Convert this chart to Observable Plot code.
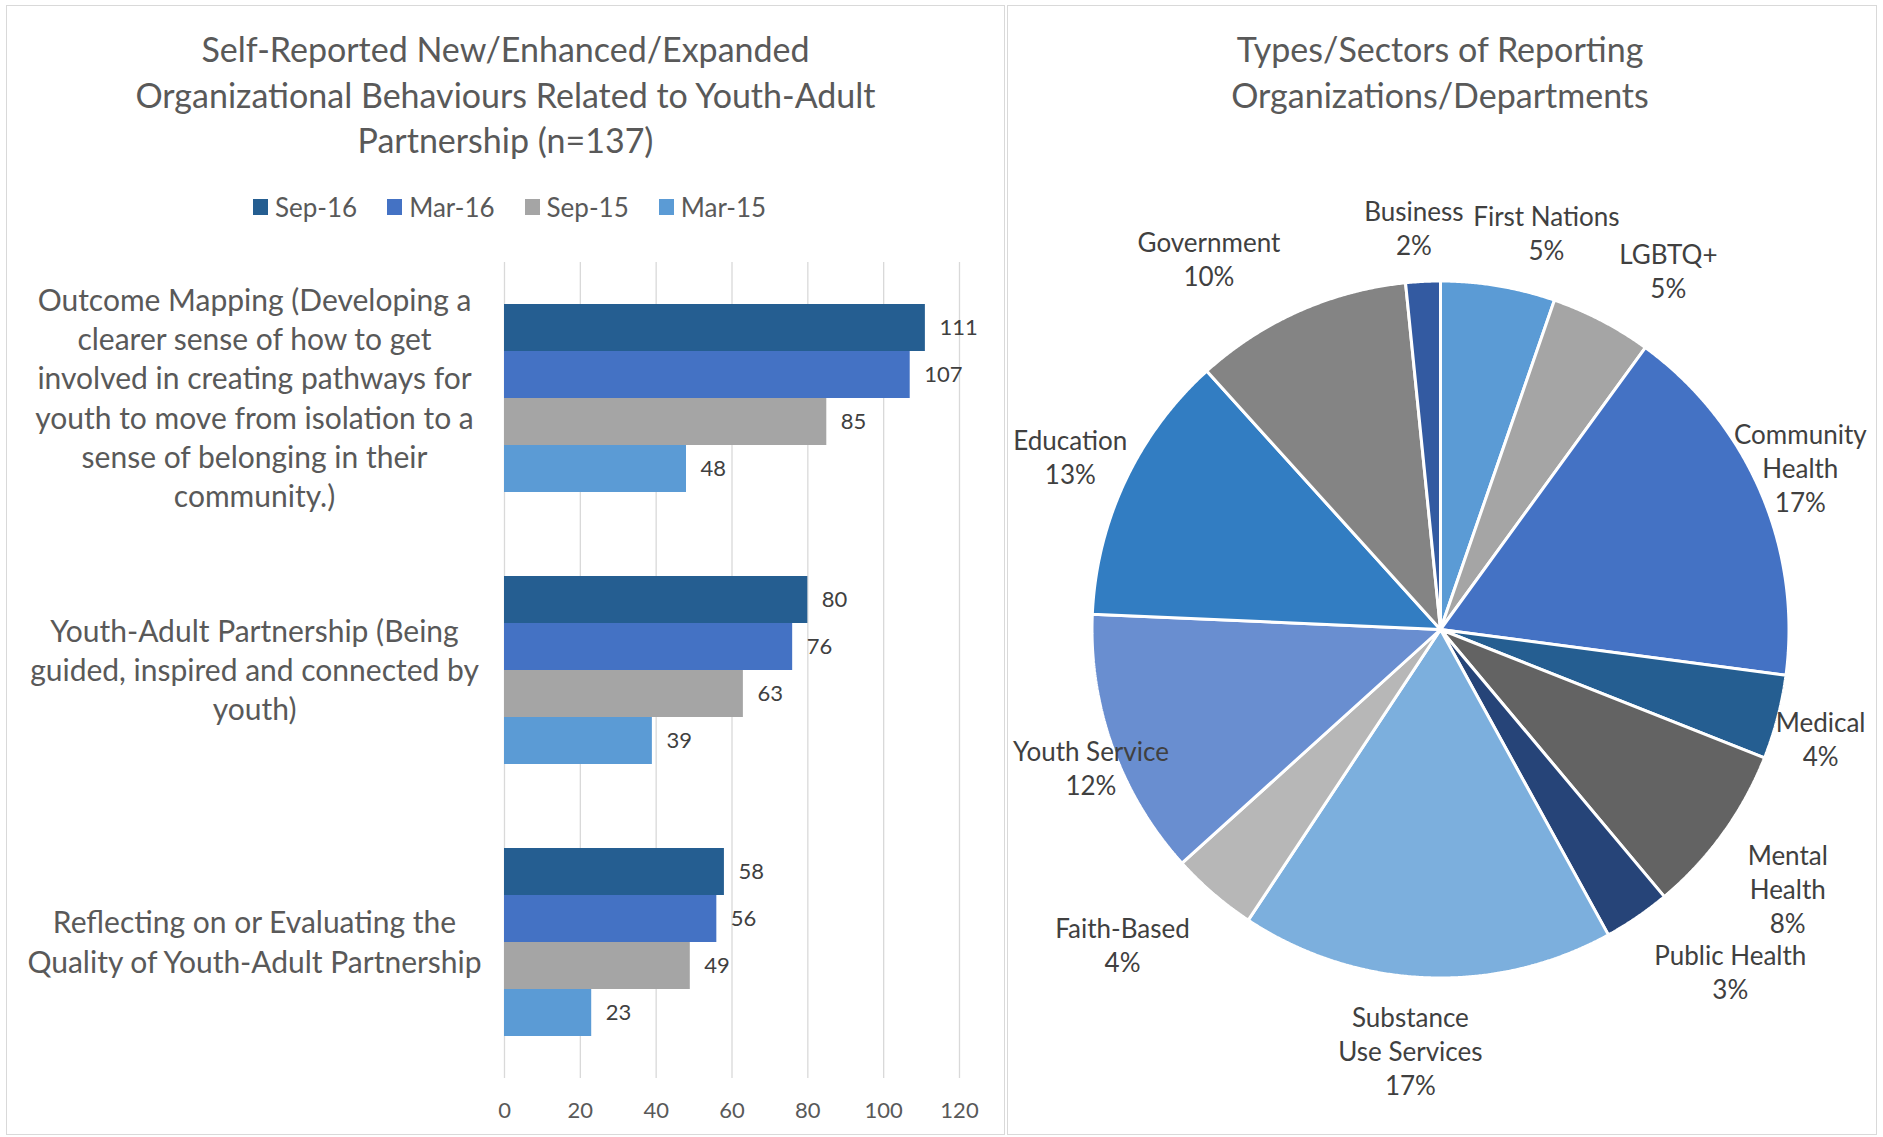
<!DOCTYPE html>
<html>
<head>
<meta charset="utf-8">
<script src="https://cdn.jsdelivr.net/npm/d3@7"></script>
<script src="https://cdn.jsdelivr.net/npm/@observablehq/plot@0.6"></script>
<style>
  html, body { margin: 0; padding: 0; background: #fff; width: 1883px; height: 1137px; overflow: hidden; font-family: Lato, "Open Sans", sans-serif; }
  .panel { position: absolute; border: 1px solid #d9d9d9; box-sizing: border-box; }
  .title { position: absolute; text-align: center; color: #595959; font-size: 34px; line-height: 45.6px; white-space: nowrap; }
  .legend { position: absolute; display: flex; align-items: center; color: #595959; font-size: 26px; line-height: 30px; white-space: nowrap; }
  .legend .item { display: flex; align-items: center; margin-right: 30px; }
  .legend .sw { width: 15px; height: 16px; margin-right: 7px; }
  .chart { position: absolute; }
</style>
</head>
<body>
<div class="panel" style="left:6px;top:5px;width:999px;height:1130px"></div>
<div class="panel" style="left:1007px;top:5px;width:870px;height:1130px"></div>
<div class="title" id="barTitle" style="left:6px;top:26px;width:999px"></div>
<div class="legend" id="barLegend" style="left:253px;top:192px"></div>
<div class="chart" id="barChart" style="left:7px;top:240px"></div>
<div class="title" id="pieTitle" style="left:1040px;top:26px;width:800px"></div>
<div class="chart" id="pieChart" style="left:1006px;top:130px"></div>
<script>
// ---------- Bar chart data ----------
const barTitleLines = ["Self-Reported New/Enhanced/Expanded", "Organizational Behaviours Related to Youth-Adult", "Partnership (n=137)"];
const categories = [
  "Outcome Mapping (Developing a\nclearer sense of how to get\ninvolved in creating pathways for\nyouth to move from isolation to a\nsense of belonging in their\ncommunity.)",
  "Youth-Adult Partnership (Being\nguided, inspired and connected by\nyouth)",
  "Reflecting on or Evaluating the\nQuality of Youth-Adult Partnership"
];
const seriesNames = ["Sep-16", "Mar-16", "Sep-15", "Mar-15"];
const sep16 = [111, 80, 58];
const mar16 = [107, 76, 56];
const sep15 = [85, 63, 49];
const mar15 = [48, 39, 23];
const xTicks = [0, 20, 40, 60, 80, 100, 120];
const seriesColors = ["#255e91", "#4472c4", "#a5a5a5", "#5b9bd5"];

// ---------- Pie chart data ----------
const pieTitleLines = ["Types/Sectors of Reporting", "Organizations/Departments"];
const sectors = ["First Nations", "LGBTQ+", "Community Health", "Medical", "Mental Health", "Public Health",
  "Substance Use Services", "Faith-Based", "Youth Service", "Education", "Government", "Business"];
const sectorLabels = ["First Nations", "LGBTQ+", "Community\nHealth", "Medical", "Mental\nHealth", "Public Health",
  "Substance\nUse Services", "Faith-Based", "Youth Service", "Education", "Government", "Business"];
const sectorShares = [5.3, 4.7, 17.1, 3.9, 7.9, 3.1, 17.3, 4.0, 12.4, 12.6, 10.1, 1.6];
const sectorColors = ["#5b9bd5", "#a5a5a5", "#4472c4", "#255e91", "#636363", "#264478",
  "#7cafdd", "#b7b7b7", "#698ed0", "#327dc2", "#848484", "#335aa1"];

// ---------- layout (label placement: radius factor, angle shift in degrees) ----------
const pieLabelPlacement = {
  "First Nations": [1.179, 5.4], "LGBTQ+": [1.222, 4.8], "Community Health": [1.133, -1.1],
  "Medical": [1.134, 1.3], "Mental Health": [1.243, 0.9], "Public Health": [1.286, -5.9],
  "Substance Use Services": [1.210, 1.75], "Faith-Based": [1.284, 4.6], "Youth Service": [1.078, -1.7],
  "Education": [1.173, -0.1], "Government": [1.256, -8.0], "Business": [1.157, -0.9]
};

// ---------- Titles & legend ----------
document.getElementById("barTitle").innerHTML = barTitleLines.join("<br>");
document.getElementById("pieTitle").innerHTML = pieTitleLines.join("<br>");
const legend = d3.select("#barLegend");
seriesNames.forEach((s, i) => {
  const it = legend.append("div").attr("class", "item");
  it.append("div").attr("class", "sw").style("background", seriesColors[i]);
  it.append("span").text(s);
});

// ---------- Bar chart ----------
const seriesValues = [sep16, mar16, sep15, mar15];
const rows = [];
categories.forEach((c, i) => {
  seriesNames.forEach((s, j) => rows.push({category: c, series: s, value: seriesValues[j][i]}));
});

const bar = Plot.plot({
  width: 997, height: 895,
  marginLeft: 497, marginRight: 45, marginTop: 22, marginBottom: 57,
  style: {fontFamily: "Lato, 'Open Sans', sans-serif", fontSize: "22px", color: "#595959", background: "transparent", overflow: "visible"},
  x: {domain: [0, 120], axis: null},
  y: {domain: seriesNames, paddingInner: 0, paddingOuter: 0.88, axis: null},
  fy: {domain: categories, padding: 0, axis: null},
  color: {domain: seriesNames, range: seriesColors},
  marks: [
    Plot.gridX(xTicks, {stroke: "#d9d9d9", strokeOpacity: 1, strokeWidth: 1.3}),
    Plot.barX(rows, {fy: "category", y: "series", x: "value", fill: "series"}),
    Plot.text(rows, {fy: "category", y: "series", x: "value", text: d => String(d.value), textAnchor: "start", dx: 14, fill: "#404040", fontSize: 22}),
    Plot.text(categories, {fy: d => d, text: d => d, frameAnchor: "left", textAnchor: "middle", dx: -250, dy: -2, fontSize: 30, lineHeight: 1.31, fill: "#595959"}),
    Plot.axisX({ticks: xTicks, tickSize: 0, tickPadding: 24, fontSize: 22, label: null})
  ]
});
document.getElementById("barChart").appendChild(bar);

// ---------- Pie chart ----------
const total = d3.sum(sectorShares);
let cum = 0;
const slices = sectors.map((name, i) => {
  const a0 = cum / total * 2 * Math.PI;
  cum += sectorShares[i];
  const a1 = cum / total * 2 * Math.PI;
  return {name, label: sectorLabels[i] + "\n" + Math.round(sectorShares[i] / total * 100) + "%", a0, a1, mid: (a0 + a1) / 2};
});
const pieRows = slices.flatMap(s => {
  const n = Math.max(2, Math.ceil((s.a1 - s.a0) / (Math.PI / 720)));
  const pts = [{name: s.name, x: 0, y: 0}];
  for (let k = 0; k <= n; k++) {
    const a = s.a0 + (s.a1 - s.a0) * k / n;
    pts.push({name: s.name, x: Math.sin(a), y: Math.cos(a)});
  }
  return pts;
});
const labelPos = s => {
  const [rf, shift] = pieLabelPlacement[s.name];
  const a = s.mid + shift * Math.PI / 180;
  return [rf * Math.sin(a), rf * Math.cos(a)];
};

const R = 348.5, cx = 434, cy = 499, PW = 870, PH = 1000;
const pie = Plot.plot({
  width: PW, height: PH,
  marginLeft: cx - R, marginRight: PW - cx - R, marginTop: cy - R, marginBottom: PH - cy - R,
  style: {fontFamily: "Lato, 'Open Sans', sans-serif", background: "transparent", overflow: "visible"},
  x: {domain: [-1, 1], axis: null},
  y: {domain: [-1, 1], axis: null},
  color: {domain: sectors, range: sectorColors},
  marks: [
    Plot.line(pieRows, {x: "x", y: "y", z: "name", fill: "name", stroke: "white", strokeWidth: 3, strokeLinejoin: "miter", curve: "linear-closed"}),
    Plot.text(slices, {x: s => labelPos(s)[0], y: s => labelPos(s)[1], text: "label", textAnchor: "middle", fontSize: 26, lineHeight: 1.31, fill: "#404040"})
  ]
});
document.getElementById("pieChart").appendChild(pie);
</script>
</body>
</html>
